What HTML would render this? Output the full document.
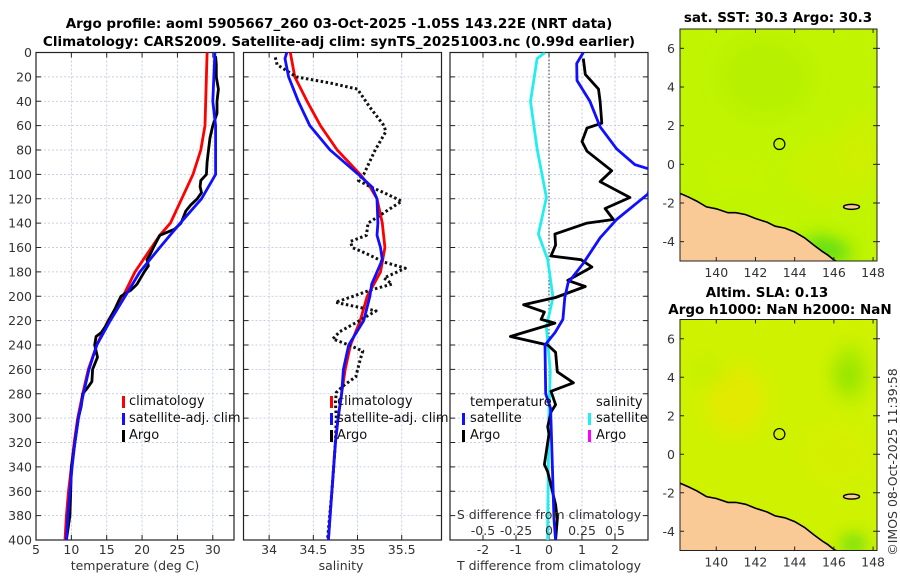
<!DOCTYPE html>
<html><head><meta charset="utf-8">
<style>
body{margin:0;background:#fff;}
svg{display:block;font-family:"DejaVu Sans","Liberation Sans",sans-serif;}
.tk{font-size:12.5px;fill:#333;}
.ttl{font-size:13.5px;font-weight:bold;fill:#000;}
.lg{font-size:13px;fill:#111;}
</style></head><body>
<svg id="fig" width="900" height="580" viewBox="0 0 900 580" xmlns="http://www.w3.org/2000/svg">
<defs><filter id="blur" x="-50%" y="-50%" width="200%" height="200%"><feGaussianBlur stdDeviation="9"/></filter></defs>
<text class="ttl" x="339" y="28" text-anchor="middle">Argo profile: aoml 5905667_260 03-Oct-2025 -1.05S 143.22E (NRT data)</text>
<text class="ttl" x="339" y="46" text-anchor="middle">Climatology: CARS2009. Satellite-adj clim: synTS_20251003.nc (0.99d earlier)</text>
<g id="p1"></g>
<g id="p2"></g>
<g id="p3"></g>
<g id="m1"></g>
<g id="m2"></g>
<text class="ttl" x="778" y="22" text-anchor="middle">sat. SST: 30.3 Argo: 30.3</text>
<text class="ttl" x="767" y="297" text-anchor="middle">Altim. SLA: 0.13</text>
<text class="ttl" x="780" y="314" text-anchor="middle">Argo h1000: NaN h2000: NaN</text>
<text class="tk" x="0" y="0" transform="translate(897,462) rotate(-90)" text-anchor="middle">©IMOS 08-Oct-2025 11:39:58</text>
</svg>
<script>
// ---- data ----
const tempDepthClim=[0,20,40,60,80,100,120,140,150,180,200,220,240,260,280,300,320,340,360,380,400];
const tempClim=[29.2,29.1,29.0,28.9,28.3,27.2,25.6,24.0,22.5,19.0,17.3,15.2,13.6,12.4,11.6,10.9,10.4,10.0,9.6,9.3,9.1];
const tempDepthSat=[0,40,60,100,120,140,160,180,200,220,240,260,280,300,320,340,360,380,400];
const tempSat=[30.3,30.0,30.4,30.4,28.4,25.4,22.5,19.7,17.6,15.5,13.6,12.5,11.7,11.0,10.5,10.1,9.8,9.5,9.3];
const tempDepthArgo=[3,10,20,30,40,50,60,70,80,90,100,105,110,115,120,125,130,140,145,150,160,165,170,175,180,190,195,200,205,210,220,225,230,233,240,250,260,270,275,280,290,300,320,340,360,380,400];
const tempArgo=[30.4,30.5,30.5,30.8,30.6,30.6,30.0,29.6,29.4,29.2,29.1,28.3,28.2,28.4,27.8,26.9,26.2,25.5,24.6,22.5,21.6,21.2,20.7,20.9,20.3,19.3,18.4,17.0,16.6,16.2,15.3,14.8,14.2,13.5,13.3,13.7,13.0,12.9,12.3,11.6,11.4,11.0,10.5,10.0,9.9,9.8,9.3];

const salDepthClim=[0,20,40,60,80,100,110,120,140,160,180,200,220,240,260,280,300,320,340,360,380,400];
const salClim=[34.24,34.29,34.43,34.58,34.77,35.03,35.14,35.22,35.28,35.31,35.26,35.11,35.03,34.92,34.86,34.82,34.78,34.75,34.73,34.71,34.69,34.67];
const salDepthSat=[0,5,20,40,60,80,100,110,120,140,150,160,170,180,190,200,220,240,260,280,300,320,400];
const salSat=[34.2,34.18,34.22,34.33,34.46,34.69,35.01,35.16,35.22,35.23,35.22,35.26,35.28,35.22,35.16,35.14,35.07,34.9,34.84,34.82,34.78,34.75,34.67];
const salDepthArgo=[4,10,20,25,30,45,60,65,80,100,105,110,115,122,130,140,150,155,160,165,172,177,185,190,195,200,205,212,221,229,235,240,245,252,266,274,279,287,300,320,360,400];
const salArgo=[34.07,34.09,34.31,34.69,35.0,35.14,35.3,35.32,35.2,35.07,35.01,35.14,35.3,35.5,35.33,35.12,35.10,34.92,34.94,35.10,35.30,35.54,35.30,35.39,35.14,34.95,34.75,35.21,35.0,34.8,34.72,34.9,35.06,35.03,34.98,34.83,34.76,34.75,34.76,34.75,34.71,34.66];

const sdDepth=[0,5,40,79,119,149,170,201,225,262,292,383,400];
const sdSat=[-0.03,-0.09,-0.14,-0.09,-0.02,-0.08,-0.01,0.03,-0.02,0.01,0.0,-0.01,-0.01];
const tdDepthSat=[0,9,23,40,61,79,92,97,116,137,152,173,189,201,219,230,240,280,292,383,400];
const tdSat=[1.04,0.84,0.85,1.24,1.55,2.05,2.6,3.2,3.0,2.05,1.55,1.04,0.58,0.48,0.42,0.18,-0.12,-0.1,0.05,0.15,0.2];
const tdDepthArgo=[5,18,30,40,58,62,73,81,97,106,119,128,137,140,149,158,167,170,176,187,192,201,207,213,219,222,233,240,246,262,271,278,289,295,307,313,338,344,371,383,400];
const tdArgo=[1.04,1.1,1.5,1.55,1.6,1.15,1.0,1.15,1.9,1.55,2.45,1.7,1.95,1.15,0.18,0.2,0.06,0.97,1.3,0.57,1.1,0.2,-0.77,-0.14,-0.24,0.18,-1.17,-0.04,0.2,0.25,0.74,0.06,0.2,0.06,-0.04,0,-0.14,-0.04,0.2,0.25,0.2];

const depthTicks=[0,20,40,60,80,100,120,140,160,180,200,220,240,260,280,300,320,340,360,380,400];
const tempTicks=[5,10,15,20,25,30];
const salTicks=[34,34.5,35,35.5];
const tdTicks=[-2,-1,0,1,2];
const sdTickLabels=["-0.5","-0.25","0","0.25","0.5"];
const sdTicks=[-0.5,-0.25,0,0.25,0.5];
const latTicks=[6,4,2,0,-2,-4];
const lonTicks=[140,142,144,146,148];
const argoLon=143.22, argoLat=1.05;
const coastLon=[138.15,138.6,139,139.5,140,140.6,141,141.5,142,142.6,143,143.5,144,144.5,145,145.4,145.7,146,146.3];
const coastLat=[-1.5,-1.7,-1.9,-2.2,-2.3,-2.5,-2.5,-2.6,-2.8,-3.0,-3.2,-3.3,-3.5,-3.8,-4.2,-4.5,-4.7,-4.95,-5.1];

// ---- helpers ----
const NS="http://www.w3.org/2000/svg";
function mk(tag,parent){const e=document.createElementNS(NS,tag);parent.appendChild(e);return e;}
const Y0=52.5,Y1=540;
function yD(d){return Y0+(d/400)*(Y1-Y0);}
function lin(d0,d1,r0,r1){return v=>r0+(v-d0)/(d1-d0)*(r1-r0);}

function panel(g,x0,x1,xs,xticks,xlabels,gridX,yLabels){
  for(const d of depthTicks){
    const l=mk('line',g);l.setAttribute('x1',x0);l.setAttribute('x2',x1);l.setAttribute('y1',yD(d));l.setAttribute('y2',yD(d));
    l.setAttribute('stroke','#b8c0e0');l.setAttribute('stroke-width','0.8');l.setAttribute('stroke-dasharray','2,2');
    
    
    for(const xx of [[x0,x0+5],[x1-5,x1]]){const t=mk('line',g);t.setAttribute('x1',xx[0]);t.setAttribute('x2',xx[1]);t.setAttribute('y1',yD(d));t.setAttribute('y2',yD(d));t.setAttribute('stroke','#222');
      
      }
    if(yLabels){const tx=mk('text',g);tx.setAttribute('class','tk');tx.setAttribute('x',x0-4);tx.setAttribute('y',yD(d)+4.5);tx.setAttribute('text-anchor','end');tx.textContent=d;
      
      }
  }
  xticks.forEach((v,i)=>{
    const x=xs(v);
    if(gridX){const l=mk('line',g);l.setAttribute('x1',x);l.setAttribute('x2',x);l.setAttribute('y1',Y0);l.setAttribute('y2',Y1);
      l.setAttribute('stroke','#b8c0e0');l.setAttribute('stroke-width','0.8');l.setAttribute('stroke-dasharray','2,2');
      
      }
    for(const yy of [[Y0,Y0+5],[Y1-5,Y1]]){const t=mk('line',g);t.setAttribute('x1',x);t.setAttribute('x2',x);t.setAttribute('y1',yy[0]);t.setAttribute('y2',yy[1]);t.setAttribute('stroke','#222');
      
      }
    const tx=mk('text',g);tx.setAttribute('class','tk');tx.setAttribute('x',x);tx.setAttribute('y',Y1+14);tx.setAttribute('text-anchor','middle');tx.textContent=xlabels[i];
    
    
  });
  const r=mk('rect',g);r.setAttribute('x',x0);r.setAttribute('y',Y0);r.setAttribute('width',x1-x0);r.setAttribute('height',Y1-Y0);r.setAttribute('fill','none');r.setAttribute('stroke','#222');r.setAttribute('stroke-width','1.2');
  
  
}
function clip(g,id,x0,x1){const c=mk('clipPath',g);c.setAttribute('id',id);const r=mk('rect',c);r.setAttribute('x',x0);r.setAttribute('y',Y0);r.setAttribute('width',x1-x0);r.setAttribute('height',Y1-Y0);}
function series(g,depths,vals,xs,color,w,name,dash,clipId){
  const p=mk('polyline',g);
  p.setAttribute('points',depths.map((d,i)=>xs(vals[i]).toFixed(1)+','+yD(d).toFixed(1)).join(' '));
  p.setAttribute('fill','none');p.setAttribute('stroke',color);p.setAttribute('stroke-width',w);p.setAttribute('stroke-linejoin','round');
  if(dash)p.setAttribute('stroke-dasharray',dash);
  if(clipId)p.setAttribute('clip-path','url(#'+clipId+')');
  
  
}
function text(g,x,y,s,cls,anchor,name){const t=mk('text',g);t.setAttribute('class',cls);t.setAttribute('x',x);t.setAttribute('y',y);if(anchor)t.setAttribute('text-anchor',anchor);t.textContent=s;
  
  return t;}
function marker(g,x,y,color,name){const r=mk('rect',g);r.setAttribute('x',x);r.setAttribute('y',y-10);r.setAttribute('width',3);r.setAttribute('height',12);r.setAttribute('fill',color);
  
  }

// panel 1
const p1=document.getElementById('p1');
const xT=lin(5,33,36,234);
panel(p1,36,234,xT,tempTicks,tempTicks.map(String),true,true);
clip(p1,'c1',36,234);
series(p1,tempDepthClim,tempClim,xT,'#f00',2.8,'temp-climatology-line',null,'c1');
series(p1,tempDepthArgo,tempArgo,xT,'#000',2.8,'temp-argo-line',null,'c1');
series(p1,tempDepthSat,tempSat,xT,'#1010ff',2.8,'temp-satellite-line',null,'c1');
marker(p1,122,406,'#f00','legend-climatology-marker');text(p1,129,405,'climatology','lg',null,'legend-climatology');
marker(p1,122,423,'#1010ff','legend-satellite-marker');text(p1,129,422,'satellite-adj. clim','lg',null,'legend-satellite');
marker(p1,122,440,'#000','legend-argo-marker');text(p1,129,439,'Argo','lg',null,'legend-argo');
text(p1,135,570,'temperature (deg C)','tk','middle','x-axis-title-temperature');

// panel 2
const p2=document.getElementById('p2');
const xS=lin(33.71,35.95,243.5,441.5);
panel(p2,243.5,441.5,xS,salTicks,salTicks.map(String),true,false);
clip(p2,'c2',243.5,441.5);
series(p2,salDepthClim,salClim,xS,'#f00',2.8,'sal-climatology-line',null,'c2');
series(p2,salDepthArgo,salArgo,xS,'#111',3,'sal-argo-line','2.5,2.5','c2');
series(p2,salDepthSat,salSat,xS,'#1010ff',2.8,'sal-satellite-line',null,'c2');
marker(p2,330,406,'#f00','legend-climatology-marker');text(p2,337,405,'climatology','lg',null,'legend-climatology');
marker(p2,330,423,'#1010ff','legend-satellite-marker');text(p2,337,422,'satellite-adj. clim','lg',null,'legend-satellite');
marker(p2,330,440,'#000','legend-argo-marker');text(p2,337,439,'Argo','lg',null,'legend-argo');
text(p2,341,570,'salinity','tk','middle','x-axis-title-salinity');

// panel 3
const p3=document.getElementById('p3');
const xD=lin(-3,3,450,648);
const xSD=lin(-0.75,0.75,450,648);
panel(p3,450,648,xD,tdTicks,tdTicks.map(String),true,false);
clip(p3,'c3',450,648);
{const l=mk('line',p3);l.setAttribute('x1',xD(0));l.setAttribute('x2',xD(0));l.setAttribute('y1',Y0);l.setAttribute('y2',Y1);l.setAttribute('stroke','#333');l.setAttribute('stroke-dasharray','1.5,2');
 
 }
series(p3,sdDepth,sdSat,xSD,'#22eef0',2.8,'sal-diff-satellite-line',null,'c3');
series(p3,tdDepthArgo,tdArgo,xD,'#000',2.8,'temp-diff-argo-line',null,'c3');
series(p3,tdDepthSat,tdSat,xD,'#1010ff',2.8,'temp-diff-satellite-line',null,'c3');
text(p3,470,406,'temperature','lg',null,'legend-temperature-header');
marker(p3,462,423,'#1010ff','legend-t-satellite-marker');text(p3,470,422,'satellite','lg',null,'legend-t-satellite');
marker(p3,462,440,'#000','legend-t-argo-marker');text(p3,470,439,'Argo','lg',null,'legend-t-argo');
text(p3,596,406,'salinity','lg',null,'legend-salinity-header');
marker(p3,588,423,'#22eef0','legend-s-satellite-marker');text(p3,596,422,'satellite','lg',null,'legend-s-satellite');
marker(p3,588,440,'#ff00ff','legend-s-argo-marker');text(p3,596,439,'Argo','lg',null,'legend-s-argo');
text(p3,549,519,'S difference from climatology','tk','middle','s-axis-title');
sdTicks.forEach((v,i)=>text(p3,xSD(v),535,sdTickLabels[i],'tk','middle','s-tick-label'));
text(p3,549,570,'T difference from climatology','tk','middle','x-axis-title-tdiff');

// maps
function map(g,top,bottom,base,patches,cid){
  const X0=680,X1=877;
  const xl=lin(138.15,148.2,X0,X1), yl=lin(7,-5,top,bottom);
  const c=mk('clipPath',g);c.setAttribute('id',cid);const cr=mk('rect',c);cr.setAttribute('x',X0);cr.setAttribute('y',top);cr.setAttribute('width',X1-X0);cr.setAttribute('height',bottom-top);
  const gg=mk('g',g);gg.setAttribute('clip-path','url(#'+cid+')');
  const bg=mk('rect',gg);bg.setAttribute('x',X0);bg.setAttribute('y',top);bg.setAttribute('width',X1-X0);bg.setAttribute('height',bottom-top);bg.setAttribute('fill',base);
  
  
  const pg=mk('g',gg);pg.setAttribute('filter','url(#blur)');
  for(const p of patches){const e=mk('ellipse',pg);e.setAttribute('cx',xl(p[0]));e.setAttribute('cy',yl(p[1]));e.setAttribute('rx',p[2]);e.setAttribute('ry',p[3]);e.setAttribute('fill',p[4]);e.setAttribute('opacity',p[5]);
    
    }
  const land=mk('polygon',gg);
  let pts=coastLon.map((lo,i)=>xl(lo).toFixed(1)+','+yl(coastLat[i]).toFixed(1));
  pts.push(xl(146.3)+','+(bottom+5));pts.push((X0-5)+','+(bottom+5));
  land.setAttribute('points',pts.join(' '));land.setAttribute('fill','#f9c996');land.setAttribute('stroke','#000');land.setAttribute('stroke-width','1.6');
  
  
  const isl=mk('ellipse',gg);isl.setAttribute('cx',xl(146.9));isl.setAttribute('cy',yl(-2.2));isl.setAttribute('rx',8);isl.setAttribute('ry',2.5);isl.setAttribute('fill','#f9c996');isl.setAttribute('stroke','#000');isl.setAttribute('stroke-width','1.4');
  
  
  const ci=mk('circle',g);ci.setAttribute('cx',xl(argoLon));ci.setAttribute('cy',yl(argoLat));ci.setAttribute('r',5.5);ci.setAttribute('fill','none');ci.setAttribute('stroke','#000');ci.setAttribute('stroke-width','1.2');
  
  
  for(const la of latTicks){const y=yl(la);
    text(g,X0-5,y+4.5,String(la),'tk','end','lat-tick-label');
    for(const xx of [[X0,X0+4],[X1-4,X1+3]]){const t=mk('line',g);t.setAttribute('x1',xx[0]);t.setAttribute('x2',xx[1]);t.setAttribute('y1',y);t.setAttribute('y2',y);t.setAttribute('stroke','#222');
      
      }}
  for(const lo of lonTicks){const x=xl(lo);
    text(g,x,bottom+16,String(lo),'tk','middle','lon-tick-label');
    for(const yy of [[top,top+4],[bottom-4,bottom]]){const t=mk('line',g);t.setAttribute('x1',x);t.setAttribute('x2',x);t.setAttribute('y1',yy[0]);t.setAttribute('y2',yy[1]);t.setAttribute('stroke','#222');
      
      }}
  const r=mk('rect',g);r.setAttribute('x',X0);r.setAttribute('y',top);r.setAttribute('width',X1-X0);r.setAttribute('height',bottom-top);r.setAttribute('fill','none');r.setAttribute('stroke','#222');
  
  
}
map(document.getElementById('m1'),29,261,'#c0f400',[
  [142.5,4.5,45,40,'#aeee00',0.5],[146,-0.3,45,35,'#d4f000',0.5],
  [147.5,1,20,35,'#dcee00',0.4],[141,-0.5,35,15,'#ccf200',0.4],[145.3,-4.3,18,10,'#40d820',0.9],[146.3,-4.6,10,8,'#30d020',0.9]],'cm1');
map(document.getElementById('m2'),319.5,550.5,'#cff200',[
  [141,2.8,30,35,'#eee400',0.6],[146.8,4.2,18,28,'#98e600',0.7],[146.7,4.1,8,10,'#70de00',0.7],
  [139.5,4.3,20,15,'#bcf000',0.5],[146.2,0,35,30,'#dcee00',0.4],[147,-4.7,12,8,'#30d020',0.9]],'cm2');
</script>
</body></html>
